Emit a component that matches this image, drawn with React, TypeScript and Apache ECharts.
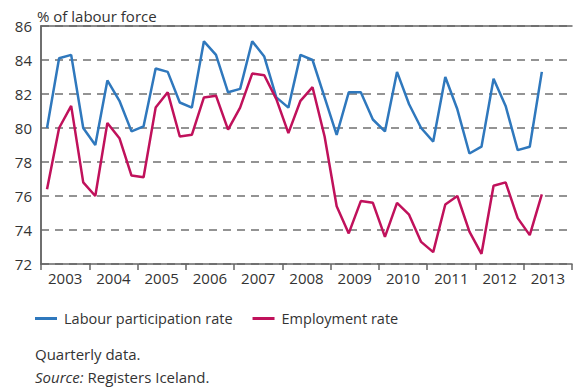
import React, { useEffect, useRef } from "react";
import * as echarts from "echarts";

const years = [2003, 2004, 2005, 2006, 2007, 2008, 2009, 2010, 2011, 2012, 2013];
const yTicks = [72, 74, 76, 78, 80, 82, 84, 86];

// Quarterly, 2003 Q1 - 2013 Q2
const participation = [
  80.0, 84.1, 84.3, 80.0,
  79.0, 82.8, 81.6, 79.8,
  80.1, 83.5, 83.3, 81.5,
  81.2, 85.1, 84.3, 82.1,
  82.3, 85.1, 84.2, 81.8,
  81.2, 84.3, 84.0, 81.8,
  79.6, 82.1, 82.1, 80.5,
  79.8, 83.3, 81.4, 80.0,
  79.2, 83.0, 81.1, 78.5,
  78.9, 82.9, 81.3, 78.7,
  78.9, 83.3,
];
const employment = [
  76.4, 80.0, 81.3, 76.8,
  76.0, 80.3, 79.4, 77.2,
  77.1, 81.2, 82.1, 79.5,
  79.6, 81.8, 81.9, 79.9,
  81.2, 83.2, 83.1, 81.7,
  79.7, 81.6, 82.4, 79.5,
  75.4, 73.8, 75.7, 75.6,
  73.6, 75.6, 74.9, 73.3,
  72.7, 75.5, 76.0, 73.9,
  72.6, 76.6, 76.8, 74.7,
  73.7, 76.1,
];

const BLUE = "#2f78bd";
const RED = "#c0115b";
const AXIS = "#666666";
const TEXT = "#333333";
const FONT = "Open Sans";

export default function App() {
  const ref = useRef<HTMLDivElement>(null);
  useEffect(() => {
    if (!ref.current) return;
    const chart = echarts.init(ref.current, undefined, { renderer: "svg" });
    const nQ = years.length * 4;
    const toPts = (arr: number[]) => arr.map((v, i) => [i + 0.5, v]);
    chart.setOption({
      animation: false,
      textStyle: { fontFamily: FONT, color: TEXT },
      grid: { left: 41, right: 2, top: 26, bottom: 127, containLabel: false },
      title: {
        text: "% of labour force",
        left: 32,
        top: 3,
        textStyle: { fontFamily: FONT, fontSize: 15, fontWeight: "normal", color: TEXT },
      },
      legend: {
        left: 30,
        top: 306,
        itemWidth: 22,
        itemHeight: 3,
        itemGap: 20,
        icon: "rect",
        textStyle: { fontFamily: FONT, fontSize: 14.5, color: TEXT, padding: [0, 0, 0, 2] },
        data: ["Labour participation rate", "Employment rate"],
      },
      xAxis: [
        {
          type: "value",
          min: 0,
          max: nQ,
          interval: 4,
          position: "bottom",
          axisLine: { show: true, lineStyle: { color: AXIS, width: 1.5 } },
          axisTick: { show: true, length: 6, lineStyle: { color: AXIS, width: 1.5 } },
          axisLabel: { show: false },
          splitLine: { show: false },
        },
        {
          type: "value",
          min: 0,
          max: nQ,
          interval: 2,
          position: "bottom",
          axisLine: { show: false },
          axisTick: { show: false },
          axisLabel: {
            show: true,
            margin: 6,
            fontFamily: FONT,
            fontSize: 15,
            color: TEXT,
            formatter: (v: number) => (v % 4 === 2 ? String(years[(v - 2) / 4] ?? "") : ""),
          },
          splitLine: { show: false },
        },
        {
          type: "value",
          min: 0,
          max: nQ,
          position: "top",
          axisLine: { show: true, lineStyle: { color: AXIS, width: 1.5 } },
          axisTick: { show: false },
          axisLabel: { show: false },
          splitLine: { show: false },
        },
      ],
      yAxis: [
        {
          type: "value",
          min: yTicks[0],
          max: yTicks[yTicks.length - 1],
          interval: 2,
          axisLine: { show: true, lineStyle: { color: AXIS, width: 1.5 } },
          axisTick: { show: false },
          axisLabel: { margin: 9, fontFamily: FONT, fontSize: 15, color: TEXT },
          splitLine: { show: true, lineStyle: { color: "#707070", width: 1.5, type: [8, 6] } },
        },
        {
          type: "value",
          min: yTicks[0],
          max: yTicks[yTicks.length - 1],
          position: "right",
          axisLine: { show: true, lineStyle: { color: AXIS, width: 1.5 } },
          axisTick: { show: false },
          axisLabel: { show: false },
          splitLine: { show: false },
        },
      ],
      series: [
        {
          name: "Labour participation rate",
          type: "line",
          data: toPts(participation),
          symbol: "none",
          lineStyle: { color: BLUE, width: 2.5 },
          itemStyle: { color: BLUE },
          xAxisIndex: 0,
          yAxisIndex: 0,
        },
        {
          name: "Employment rate",
          type: "line",
          data: toPts(employment),
          symbol: "none",
          lineStyle: { color: RED, width: 2.5 },
          itemStyle: { color: RED },
          xAxisIndex: 0,
          yAxisIndex: 0,
        },
      ],
      graphic: [
        {
          type: "text",
          left: 35,
          top: 346,
          style: { text: "Quarterly data.", fontFamily: FONT, fontSize: 15, fill: TEXT },
        },
        {
          type: "text",
          left: 35,
          top: 369,
          style: {
            text: "{i|Source:} Registers Iceland.",
            fontFamily: FONT,
            fontSize: 15,
            fill: TEXT,
            rich: { i: { fontStyle: "italic", fontFamily: FONT, fontSize: 15, fill: TEXT } },
          },
        },
      ],
    });
    return () => chart.dispose();
  }, []);
  return <div ref={ref} style={{ width: 575, height: 391, position: "absolute", left: 0, top: 0 }} />;
}
